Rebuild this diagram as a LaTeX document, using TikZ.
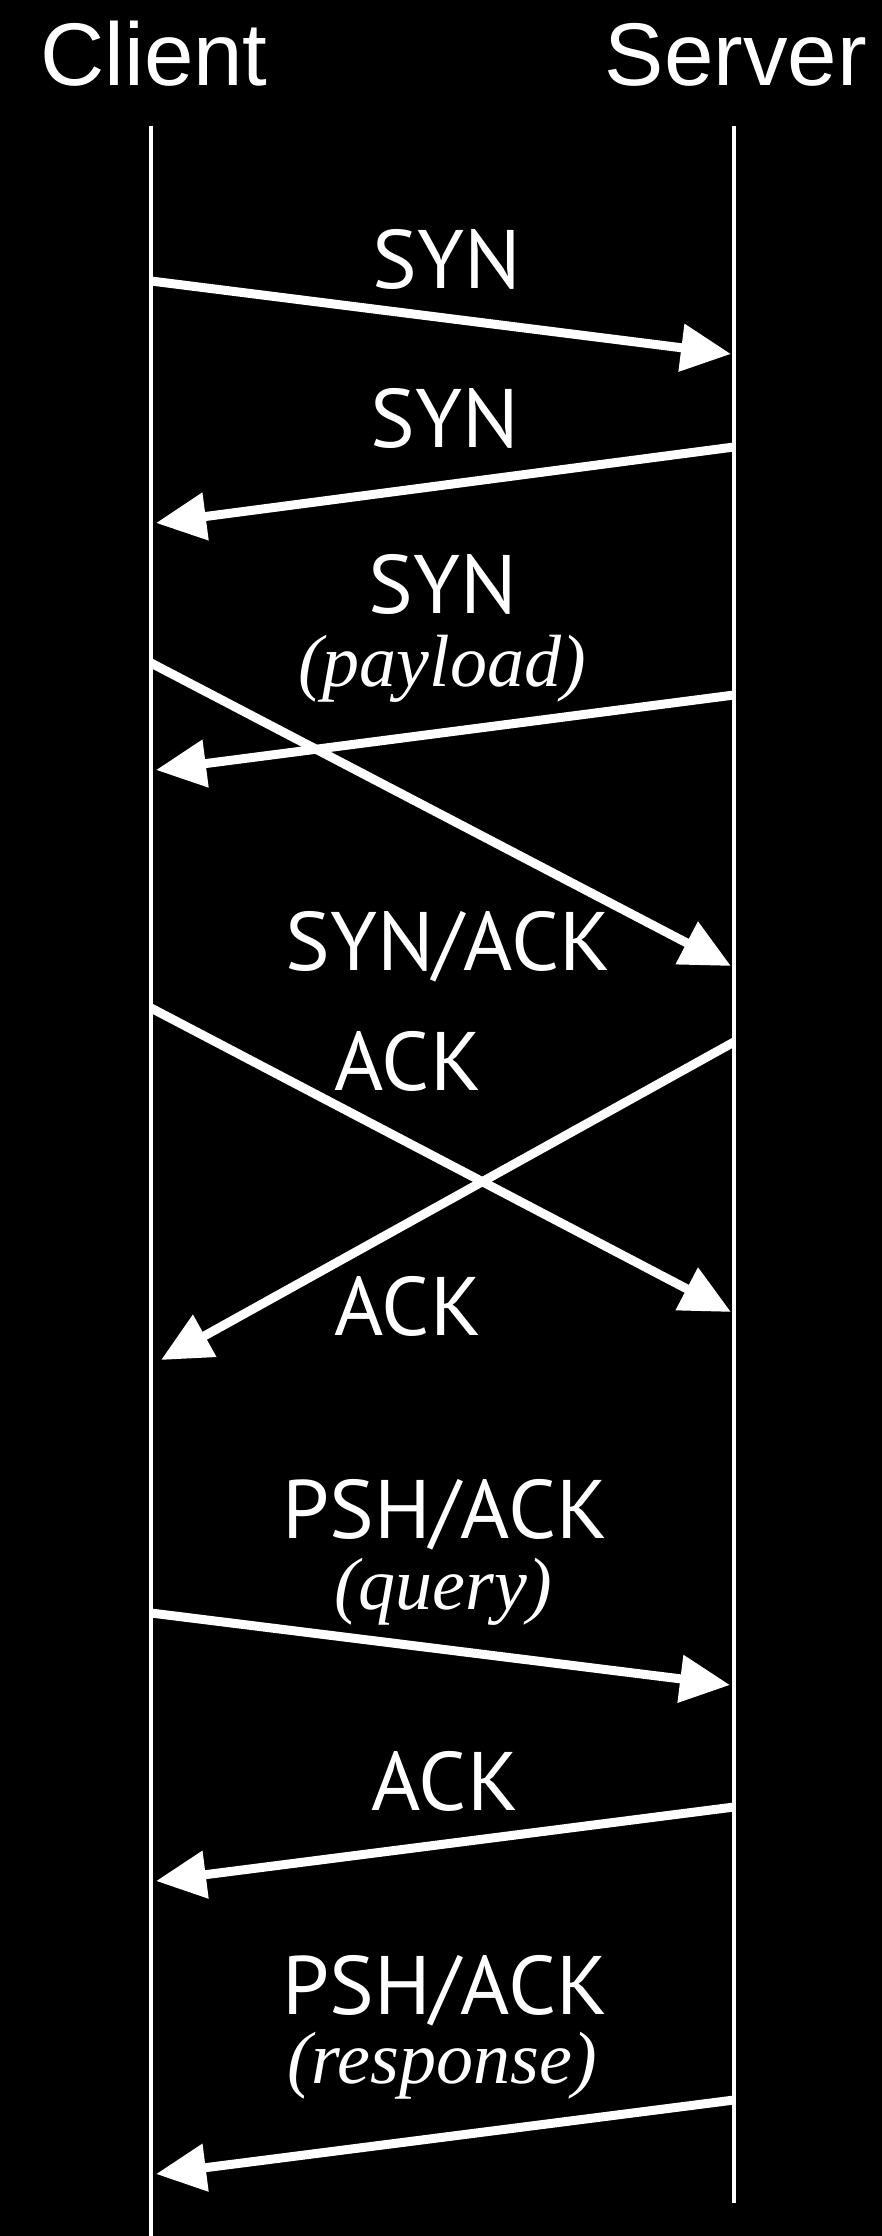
\documentclass[tikz,border=0pt]{standalone}
\usepackage{fontspec}
\setmainfont{Liberation Sans}
\newfontfamily\labfont[FakeStretch=1.015]{PT Sans}
\newfontfamily\serfont{Liberation Serif}
\usetikzlibrary{arrows.meta}
\begin{document}
\begin{tikzpicture}[x=0.5pt,y=-0.5pt,
  head/.style={text=white,inner sep=0pt,anchor=base,font=\fontsize{44.5}{50}\selectfont},
  lab/.style={text=white,inner sep=0pt,anchor=base,font=\labfont\fontsize{41.5}{48}\selectfont},
  sub/.style={text=white,inner sep=0pt,anchor=base,font=\serfont\itshape\fontsize{37}{42}\selectfont},
  life/.style={draw=white,line width=1.75pt},
  msg/.style={draw=white,line width=4.5pt,-{Triangle[length=25pt,width=23pt]}}]
\fill[black] (0,0) rectangle (882,2236);
\useasboundingbox (0,0) rectangle (882,2236);
% headers
\node[head] (client) at (154,86) {Client};
\node[head] (server) at (736,86) {Server};
% lifelines
\coordinate (ctop) at (151,126);
\coordinate (cbot) at (151,2236);
\coordinate (stop) at (734,126);
\coordinate (sbot) at (734,2203);
\draw[life] (ctop) -- (cbot);
\draw[life] (stop) -- (sbot);
% message end points
\coordinate (c1) at (151,281);  \coordinate (s1) at (731,354);
\coordinate (s2) at (734,447);  \coordinate (c2) at (156,523);
\coordinate (s3) at (734,695);  \coordinate (c3) at (156,770);
\coordinate (c4) at (151,663);  \coordinate (s4) at (731,966);
\coordinate (c5) at (151,1008); \coordinate (s5) at (731,1312);
\coordinate (s6) at (734,1042); \coordinate (c6) at (161,1360);
\coordinate (c7) at (151,1613); \coordinate (s7) at (730,1685);
\coordinate (s8) at (734,1807); \coordinate (c8) at (156,1881);
\coordinate (s9) at (734,2100); \coordinate (c9) at (156,2174);
\draw[msg] (c1) -- (s1);
\draw[msg] (s2) -- (c2);
\draw[msg] (s3) -- (c3);
\draw[msg] (c4) -- (s4);
\draw[msg] (c5) -- (s5);
\draw[msg] (s6) -- (c6);
\draw[msg] (c7) -- (s7);
\draw[msg] (s8) -- (c8);
\draw[msg] (s9) -- (c9);
% labels
\node[lab] (l1) at (447,289) {SYN};
\node[lab] (l2) at (445,447) {SYN};
\node[lab] (l3) at (443,613) {SYN};
\node[sub] (l3b) at (442,686) {(payload)};
\node[lab] (l4) at (448,970) {SYN/ACK};
\node[lab] (l5) at (408,1090) {ACK};
\node[lab] (l6) at (408,1335) {ACK};
\node[lab] (l7) at (445,1538) {PSH/ACK};
\node[sub] (l7b) at (443,1609) {(query)};
\node[lab] (l8) at (445,1810) {ACK};
\node[lab] (l9) at (445,2014) {PSH/ACK};
\node[sub] (l9b) at (442,2083) {(response)};
\end{tikzpicture}
\end{document}
